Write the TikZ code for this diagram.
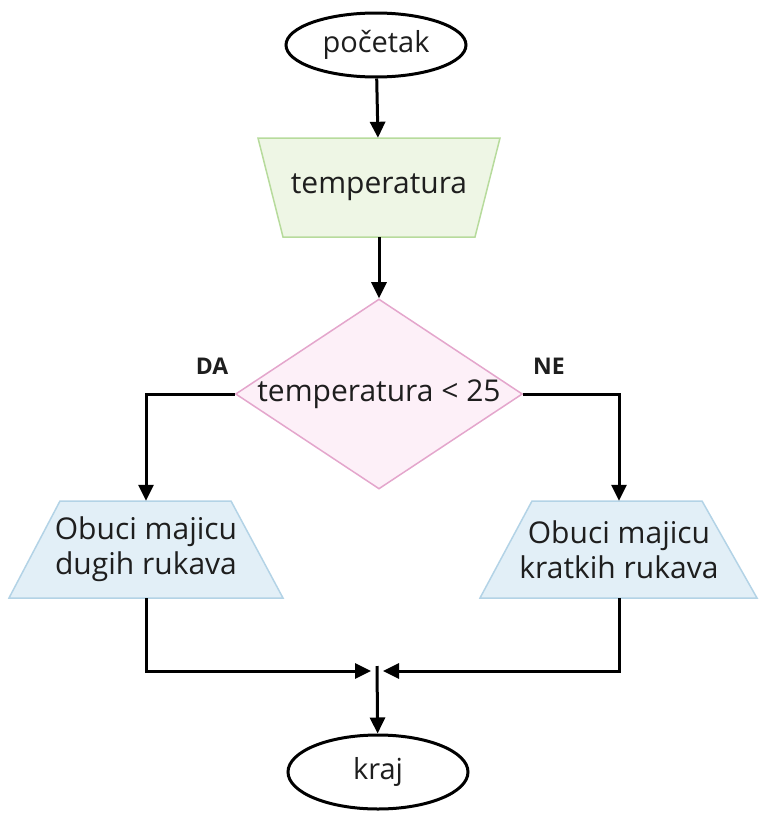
\documentclass[tikz,border=0pt]{standalone}
\usepackage{fontspec}
\setmainfont{Open Sans}
\usetikzlibrary{shapes.geometric,arrows.meta}
\definecolor{gfill}{HTML}{EEF6E5}
\definecolor{gdraw}{HTML}{B7DB9C}
\definecolor{pfill}{HTML}{FDF0F8}
\definecolor{pdraw}{HTML}{E4A6CC}
\definecolor{bfill}{HTML}{E2EFF7}
\definecolor{bdraw}{HTML}{B3D3E6}
\definecolor{txt}{HTML}{1E1E1E}
\begin{document}
\begin{tikzpicture}[x=1pt,y=-1pt,
  term/.style={ellipse,draw=black,line width=3pt,fill=white,inner sep=1pt,
     font=\fontsize{29}{35}\selectfont,text=txt},
  txtlbl/.style={font=\fontsize{30}{35}\selectfont,text=txt,align=center},
  boxtxt/.style={txtlbl,inner sep=0pt,minimum width=170pt},
  ingr/.style={draw=gdraw,fill=gfill,line width=1.5pt},
  outgr/.style={draw=bdraw,fill=bfill,line width=1.5pt},
  decbox/.style={diamond,draw=pdraw,fill=pfill,line width=1.5pt,inner sep=1pt,
     minimum width=287pt,minimum height=190pt},
  arr/.style={line width=3pt,-{Triangle[length=16pt,width=15pt]}},
  yn/.style={font=\fontsize{23}{28}\selectfont\bfseries,text=txt}
]
\useasboundingbox (0,0) rectangle (768,814);
% shapes drawn directly
\path[ingr] (258,138) -- (500,138) -- (475,237) -- (283,237) -- cycle;
\path[outgr] (60,501) -- (231,501) -- (283,598) -- (9,598) -- cycle;
\path[outgr] (532,501) -- (702,501) -- (757,598) -- (480,598) -- cycle;

\node[term,minimum width=180pt,minimum height=64pt] (start) at (376,45) {početak};
\node[boxtxt,minimum height=99pt] (inp) at (379,187.5) {temperatura};
\node[decbox,label={[txtlbl]center:temperatura < 25}] (dec) at (379,394) {};
\node[boxtxt,minimum height=97pt] (left) at (146,549.5) {Obuci majicu\\dugih rukava};
\node[boxtxt,minimum height=97pt] (right) at (619,549.5) {Obuci majicu\\kratkih rukava};
\node[term,minimum width=180pt,minimum height=74pt] (end) at (378,772) {kraj};
\coordinate (m) at (377,671);
\node[yn] (da) at (212,366) {DA};
\node[yn] (ne) at (549,366) {NE};

\draw[arr] (start) -- (inp);
\draw[arr] (inp) -- (dec);
\draw[arr] (dec.west) -| (left.north);
\draw[arr] (dec.east) -| (right.north);
\draw[arr] (left.south) |- ([xshift=-6pt]m);
\draw[arr] (right.south) |- ([xshift=6pt]m);
\draw[arr] ([yshift=5pt]m) -- (end);
\end{tikzpicture}
\end{document}
